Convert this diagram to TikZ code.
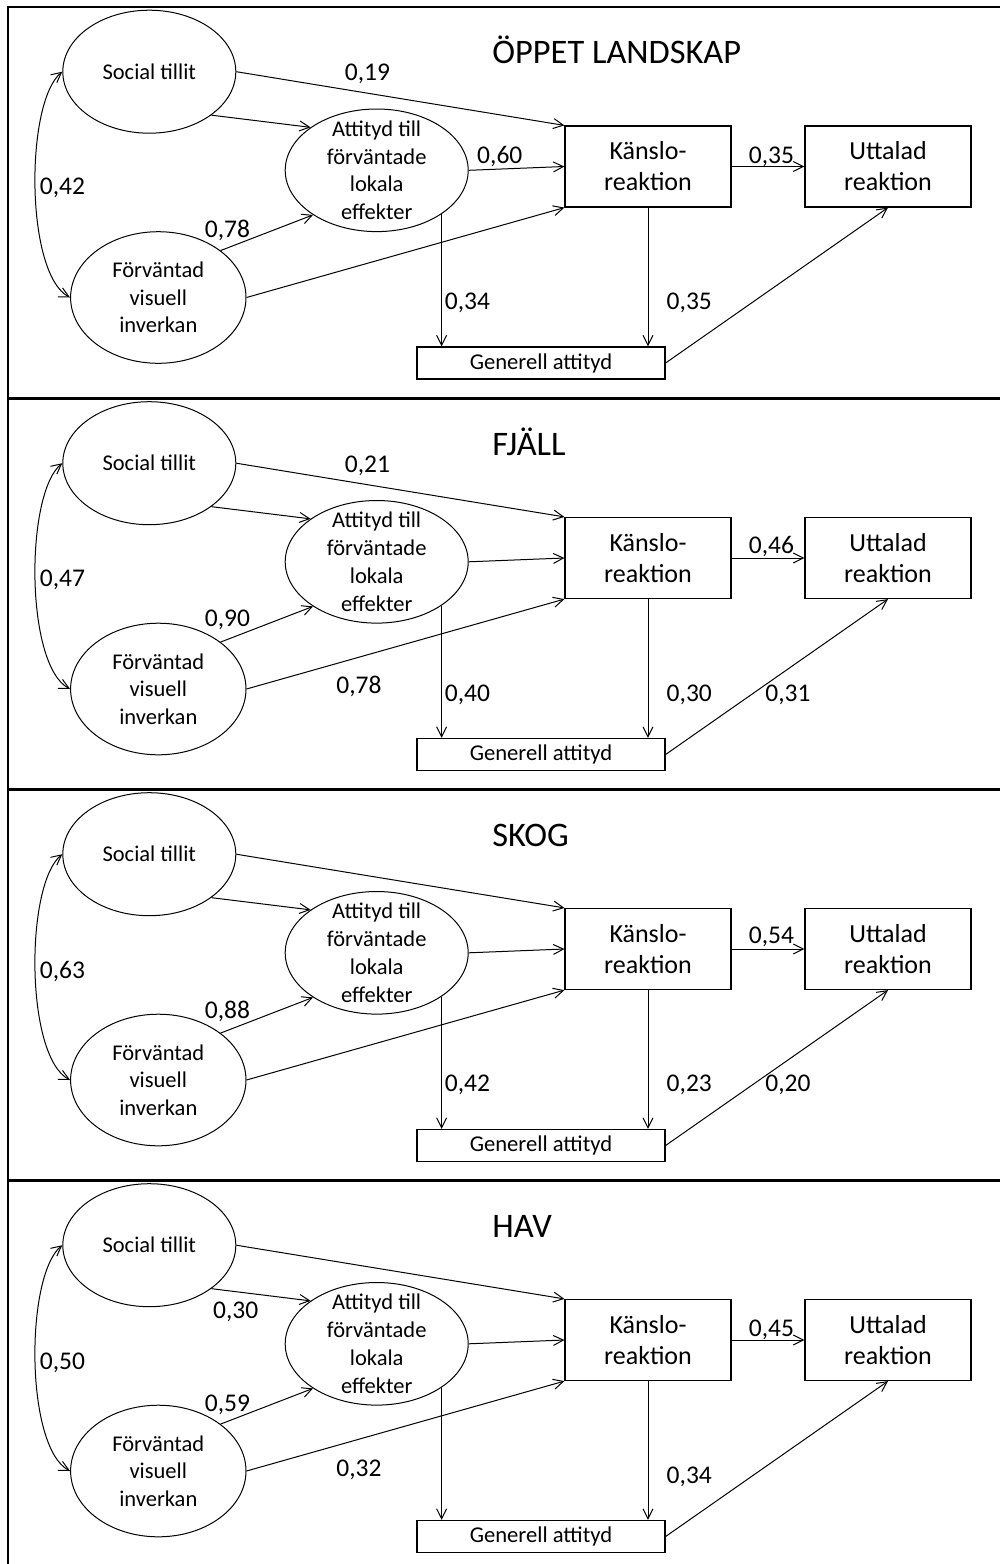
\documentclass[tikz,border=0pt]{standalone}
\usepackage{fontspec}
\setmainfont{Carlito}
\usetikzlibrary{shapes.geometric,arrows.meta}

\begin{document}
\begin{tikzpicture}[x=0.5pt,y=-0.5pt,
  latent/.style={ellipse,draw,line width=0.5pt,inner sep=-4pt,align=center,font=\fontsize{11.25}{13.85}\selectfont},
  observed/.style={rectangle,draw,line width=0.6pt,align=center,minimum width=83pt,minimum height=40.5pt,font=\fontsize{13}{15.5}\selectfont},
  paneltitle/.style={anchor=base west,inner sep=0pt,font=\fontsize{17.2}{20}\selectfont},
  coef/.style={inner sep=0pt,text depth=0pt,font=\fontsize{12.75}{15}\selectfont},
  effect/.style={line width=0.5pt,-{Straight Barb[length=5pt,width=5pt]}},
  cov/.style={line width=0.5pt,{Straight Barb[length=5pt,width=5pt]}-{Straight Barb[length=5pt,width=5pt]}},
  frame/.style={line width=1.4pt,line cap=rect}]
\useasboundingbox (0,0) rectangle (1000,1564);

\foreach \off/\ttl/\p in {0/{ÖPPET LANDSKAP}/a,391.5/FJÄLL/b,782.5/SKOG/c,1173.5/HAV/d}{
\begin{scope}[shift={(0,\off)}]
\draw[frame] (1001,7) -| (8,398.5);
\node[paneltitle] (ttl\p) at (492,63.8) {\ttl};
\node[latent,minimum width=86.5pt,minimum height=61.5pt] (st\p) at (149.3,71.7) {Social tillit};
\node[latent,minimum width=91.5pt,minimum height=61.3pt] (at\p) at (376.7,170.3) {Attityd till\\förväntade\\lokala\\effekter};
\node[latent,minimum width=87.7pt,minimum height=65.8pt] (fv\p) at (158.3,297.5) {Förväntad\\visuell\\inverkan};
\node[observed] (kr\p) at (648,166.5) {Känslo-\\reaktion};
\node[observed] (ur\p) at (888,166.5) {Uttalad\\reaktion};
\node[observed,minimum width=124pt,minimum height=16pt,inner sep=2pt,font=\fontsize{11.3}{13}\selectfont] (ga\p) at (541,363) {Generell attityd};
\draw[effect] (st\p.east) -- (kr\p.north west);
\draw[effect] (st\p.-35) -- (at\p.147);
\draw[effect] (at\p.east) -- (kr\p.west);
\draw[effect] (fv\p.37) -- (at\p.-145);
\draw[effect] (fv\p.east) -- (kr\p.south west);
\draw[effect] (at\p.-34) -- (at\p.-34 |- ga\p.north);
\draw[effect] (kr\p.south) -- (kr\p.south |- ga\p.north);
\draw[effect] (kr\p.east) -- (ur\p.west);
\draw[effect] (ga\p.east) -- (ur\p.south);
\draw[cov] (st\p.west) .. controls (25,102) and (25,274) .. (fv\p.west);
\end{scope}
}

\node[coef] (st-kr-a) at (367.5,72) {0,19};
\node[coef] (at-kr-a) at (499.8,155) {0,60};
\node[coef] (kr-ur-a) at (771.5,155) {0,35};
\node[coef] (st-fv-a) at (62.5,186.5) {0,42};
\node[coef] (fv-at-a) at (227.5,228.5) {0,78};
\node[coef] (at-ga-a) at (467.5,301.5) {0,34};
\node[coef] (kr-ga-a) at (689.3,301.5) {0,35};

\node[coef] (st-kr-b) at (367.5,464) {0,21};
\node[coef] (kr-ur-b) at (771.5,545) {0,46};
\node[coef] (st-fv-b) at (62.5,578) {0,47};
\node[coef] (fv-at-b) at (227.5,618) {0,90};
\node[coef] (fv-kr-b) at (359,685) {0,78};
\node[coef] (at-ga-b) at (467.5,693) {0,40};
\node[coef] (kr-ga-b) at (689.3,693) {0,30};
\node[coef] (ga-ur-b) at (788,693) {0,31};

\node[coef] (kr-ur-c) at (771.5,935) {0,54};
\node[coef] (st-fv-c) at (62.5,970) {0,63};
\node[coef] (fv-at-c) at (227.5,1010) {0,88};
\node[coef] (at-ga-c) at (467.5,1083) {0,42};
\node[coef] (kr-ga-c) at (689.3,1083) {0,23};
\node[coef] (ga-ur-c) at (788,1083) {0,20};

\node[coef] (st-at-d) at (235.7,1310) {0,30};
\node[coef] (kr-ur-d) at (771.5,1328) {0,45};
\node[coef] (st-fv-d) at (62.5,1361.7) {0,50};
\node[coef] (fv-at-d) at (227.5,1403) {0,59};
\node[coef] (fv-kr-d) at (359,1468) {0,32};
\node[coef] (kr-ga-d) at (689.3,1475) {0,34};
\end{tikzpicture}
\end{document}
